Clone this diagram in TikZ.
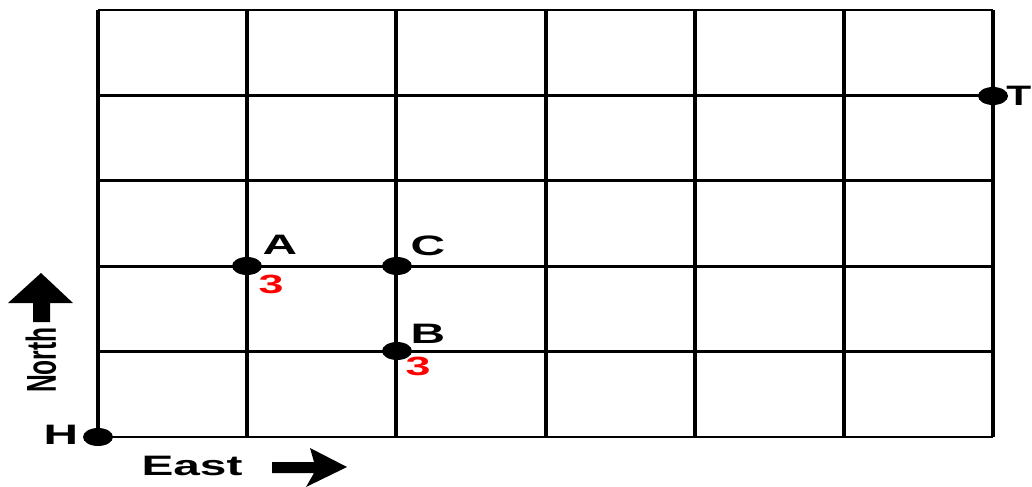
\documentclass[tikz,border=0pt]{standalone}
\usepackage{fontspec}
\setmainfont{Liberation Sans}
\usepackage{tikz}
\usetikzlibrary{positioning}

\tikzset{
  vline/.style={line width=2.2pt},
  hline/.style={line width=1.6pt},
  spot/.style={fill=black},
  lab/.style={font=\fontsize{16}{19}\selectfont\bfseries, inner sep=0pt},
  cost/.style={font=\fontsize{15}{18}\selectfont\bfseries, text=red, inner sep=0pt},
}
\newcommand{\widen}[1]{\scalebox{1.7}[1]{#1}}

\begin{document}
\begin{tikzpicture}[x=0.02cm,y=-0.02cm]
\useasboundingbox (0,0) rectangle (1032,487);
% street grid
\foreach \i in {0,...,6}
  \draw [vline] (98+149.2*\i,10) -- (98+149.2*\i,437);
\foreach \j in {0,...,5}
  \draw [hline] (98,10+85.4*\j) -- (993,10+85.4*\j);
% corners
\coordinate (H) at (98,437);
\coordinate (A) at (247,266);
\coordinate (C) at (397,266);
\coordinate (B) at (397,351);
\coordinate (T) at (993,96);
\foreach \p in {H,A,C,B,T}
  \fill [spot] (\p) ellipse [x radius=0.3cm, y radius=0.18cm];
\node [lab] (labH) at (61,435) {\widen{H}};
\node [lab] (labA) at (280,245) {\widen{A}};
\node [lab] (labC) at (428,246) {\widen{C}};
\node [lab] (labB) at (428,334) {\widen{B}};
\node [lab, anchor=west] (labT) at (1006,96) {\scalebox{1.45}[1]{T}};
\node [cost] (costA) at (271,284) {\widen{3}};
\node [cost] (costB) at (418,366) {\widen{3}};
% compass
\node [lab] (east) at (192,466) {\widen{East}};
\node [lab, font=\fontsize{14}{17}\selectfont\bfseries] (north) at (41,360) {\widen{\rotatebox{90}{North}}};
\fill (272,462) -- (314,462) -- (310,448) -- (347,467) -- (306,487) -- (314,473) -- (272,473) -- cycle;
\fill (33,322) -- (33,303) -- (8,303) -- (41,273) -- (73,303) -- (50,303) -- (50,322) -- cycle;
\end{tikzpicture}
\end{document}
